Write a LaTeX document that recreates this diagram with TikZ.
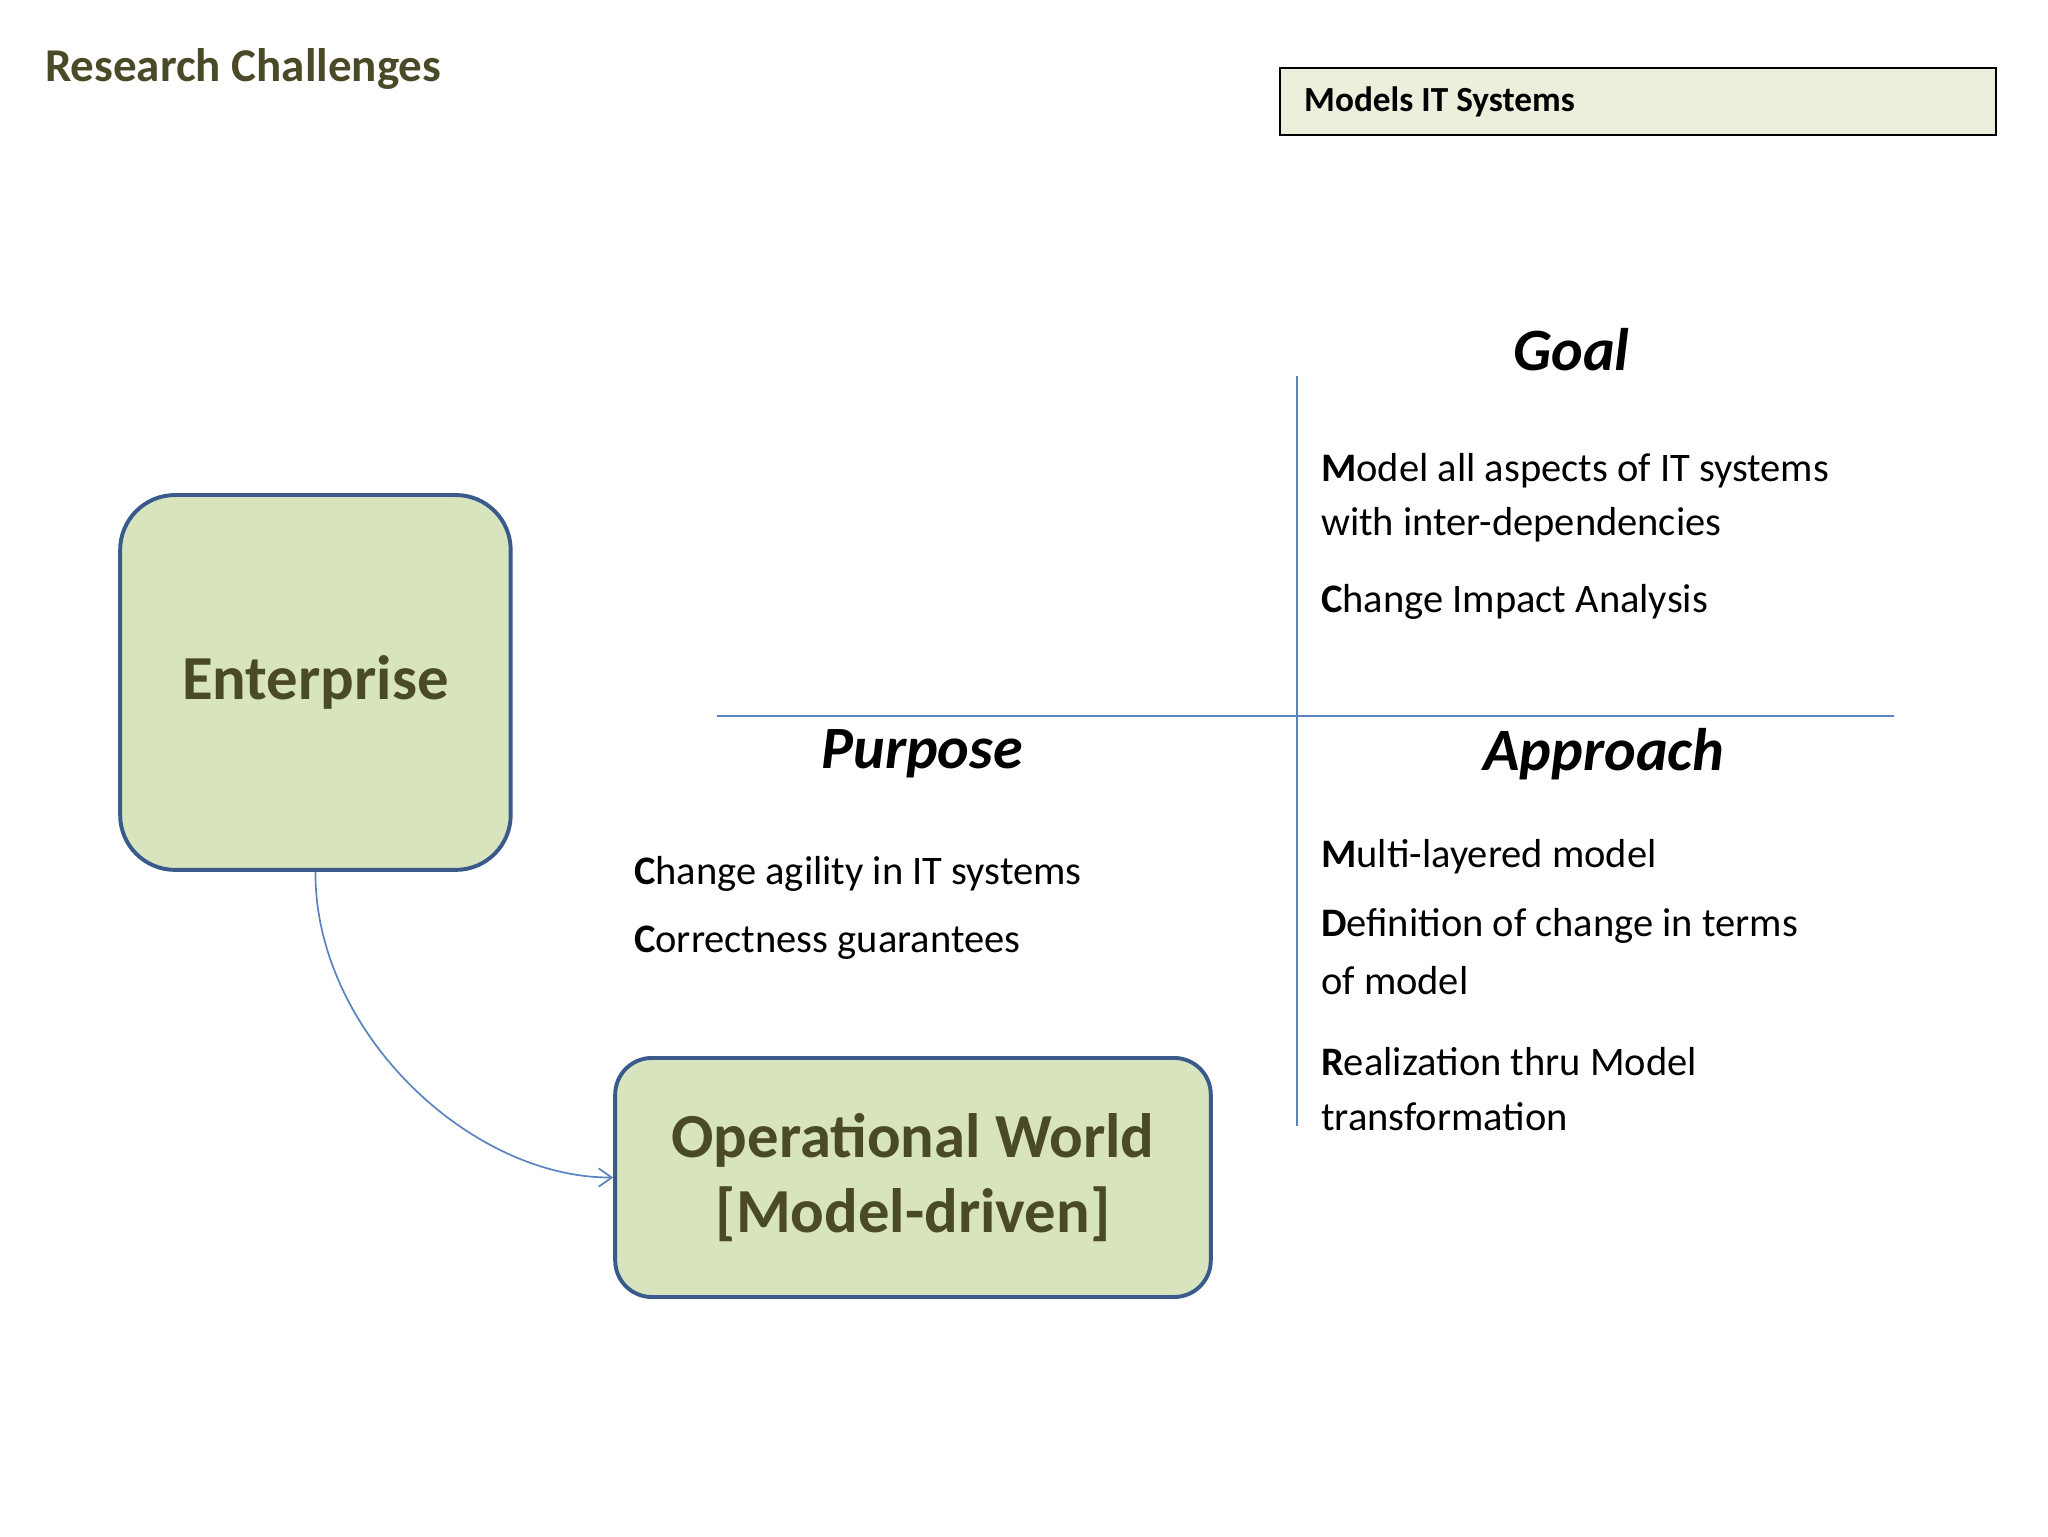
\documentclass[tikz,border=0pt]{standalone}
\usepackage{fontspec}
\setmainfont{Carlito}
\usetikzlibrary{arrows.meta}
\definecolor{olive}{HTML}{4A4A28}
\definecolor{lineblue}{HTML}{5A84C0}
\definecolor{boxfill}{HTML}{D7E4BD}
\definecolor{boxedge}{HTML}{3B5A8C}
\definecolor{tagfill}{HTML}{EAF0DC}
\tikzset{
  bigbox/.style={draw=boxedge,line width=3pt,fill=boxfill,rounded corners=42pt,text=olive,font=\fontsize{48}{62}\selectfont\bfseries,align=center},
  head/.style={font=\fontsize{46}{54}\selectfont\bfseries\itshape},
  body/.style={anchor=west,font=\fontsize{31}{38}\selectfont},
  axis/.style={draw=lineblue,line width=1.5pt}
}
\begin{document}
\begin{tikzpicture}[x=1pt,y=-1pt]
\useasboundingbox[fill=white] (0,0) rectangle (1568,1176);
\node[anchor=west,text=olive,font=\fontsize{36}{40}\selectfont\bfseries] (title) at (31,53) {Research Challenges};
\draw[fill=tagfill,line width=1.5pt] (980,52) rectangle (1528,103);
\node[anchor=west,font=\fontsize{27}{32}\selectfont\bfseries] (tag) at (995,78) {Models IT Systems};
\coordinate (vt) at (993,288); \coordinate (vb) at (993,862);
\coordinate (hl) at (549,548); \coordinate (hr) at (1450,548);
\draw[axis] (vt) -- (vb);
\draw[axis] (hl) -- (hr);
\node[head] (goal) at (1203,268) {Goal};
\node[head] (purpose) at (706,577) {Purpose};
\node[head] (approach) at (1228,577) {Approach};
\node[body] (g1) at (1008,360) {\textbf{M}odel all aspects of IT systems};
\node[body] (g2) at (1008,402) {with inter-dependencies};
\node[body] (g3) at (1008,461) {\textbf{C}hange Impact Analysis};
\node[body] (p1) at (482,669) {\textbf{C}hange agility in IT systems};
\node[body] (p2) at (482,722) {\textbf{C}orrectness guarantees};
\node[body] (a1) at (1008,656) {\textbf{M}ulti-layered model};
\node[body] (a2) at (1008,709) {\textbf{D}efinition of change in terms};
\node[body] (a3) at (1008,751) {of model};
\node[body] (a4) at (1008,813) {\textbf{R}ealization thru Model};
\node[body] (a5) at (1008,855) {transformation};
\node[bigbox,minimum width=299pt,minimum height=287pt] (ent) at (241.5,522.5) {Enterprise};
\node[bigbox,rounded corners=28pt,minimum width=456pt,minimum height=183pt] (op) at (699,901.5) {Operational World\\[-4pt]{[Model-driven]}};
\draw[draw=lineblue,line width=1.3pt,-{Straight Barb[length=10pt,width=14pt]}] (ent.south) .. controls (241,790) and (360,902) .. (op.west);
\end{tikzpicture}
\end{document}
